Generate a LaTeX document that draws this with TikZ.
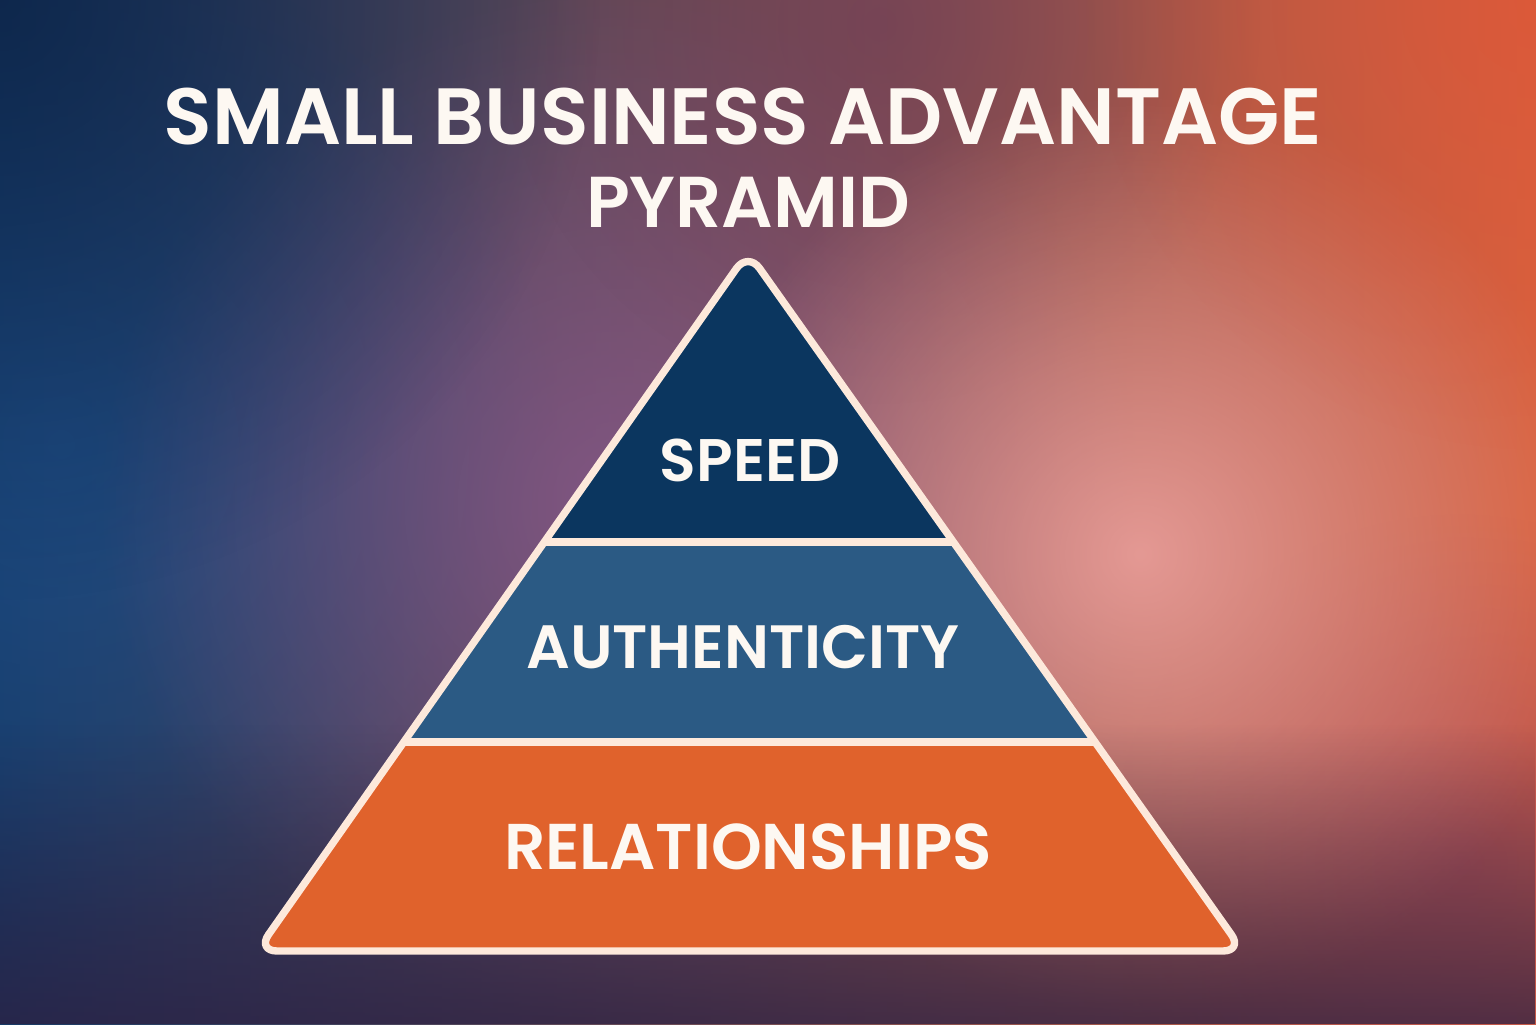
\documentclass[tikz,border=0pt]{standalone}
\usepackage{fontspec}
\setmainfont{Poppins}[BoldFont={Poppins SemiBold}]
\usetikzlibrary{calc,fadings}

\definecolor{bgnavy}{HTML}{173A66}
\definecolor{bgorange}{HTML}{D8623F}
\definecolor{glowpurple}{HTML}{86588A}
\definecolor{glowpink}{HTML}{EBA09C}
\definecolor{glowblue}{HTML}{1D4C84}
\definecolor{glowplum}{HTML}{A04860}
\definecolor{topplum}{HTML}{6A3A5A}
\definecolor{darknavy}{HTML}{0C2346}
\definecolor{darkplum}{HTML}{2C2042}
\definecolor{topband}{HTML}{0B365F}
\definecolor{midband}{HTML}{2B5A84}
\definecolor{lowband}{HTML}{E0622C}
\definecolor{rim}{HTML}{FDE9DB}
\definecolor{label}{HTML}{FDF8F2}

\tikzfading[name=softglow, inner color=transparent!0, outer color=transparent!100]
\tikzfading[name=risefade, bottom color=transparent!0, top color=transparent!100]

\begin{document}
\begin{tikzpicture}[
  rimline/.style={draw=rim, line width=2.1pt, line join=round, rounded corners=0.2cm},
  bandtext/.style={text=label, font=\bfseries\fontsize{18}{18}\selectfont},
  titletext/.style={text=label, font=\bfseries\fontsize{22.7}{22.7}\selectfont}
]
\useasboundingbox (0,0) rectangle (15.36,10.24);
% background
\shade [left color=bgnavy, right color=bgorange] (0,0) rectangle (15.36,10.24);
\fill [glowblue, path fading=softglow, opacity=0.9] (0.6,5.8) circle (5);
\fill [glowpurple, path fading=softglow, opacity=0.85] (6.2,5.2) circle (5.2);
\fill [topplum, path fading=softglow, opacity=0.55] (8.8,10.0) circle (3.8);
\fill [glowplum, path fading=softglow, opacity=0.6] (14.6,1.6) circle (3.5);
\fill [glowpink, path fading=softglow, opacity=0.9] (11.4,4.7) circle (4.6);
\fill [darknavy, path fading=softglow, opacity=0.8] (0,10.24) circle (6);
\fill [darkplum, path fading=risefade, opacity=0.75] (0,0) rectangle (15.36,3.0);
\fill [bgorange!85!red, path fading=softglow, opacity=0.6] (15.36,10.24) circle (4.5);

% pyramid
\coordinate (apex) at (7.48,7.72);
\coordinate (bl) at (2.57,0.73);
\coordinate (br) at (12.43,0.73);
\coordinate (l1) at ($(bl)!0.5851!(apex)$);
\coordinate (r1) at ($(br)!0.5851!(apex)$);
\coordinate (l2) at ($(bl)!0.2990!(apex)$);
\coordinate (r2) at ($(br)!0.2990!(apex)$);
\begin{scope}
  \clip [rounded corners=0.2cm] (bl) -- (apex) -- (br) -- cycle;
  \fill [lowband] (bl) -- (l2) -- (r2) -- (br) -- cycle;
  \fill [midband] (l2) -- (l1) -- (r1) -- (r2) -- cycle;
  \fill [topband] (l1) -- (apex) -- (r1) -- cycle;
\end{scope}
\draw [draw=rim, line width=2.1pt] (l1) -- (r1);
\draw [draw=rim, line width=2.1pt] (l2) -- (r2);
\draw [rimline] (bl) -- (apex) -- (br) -- cycle;

% labels
\node [titletext] (title) at (7.43,9.07) {SMALL BUSINESS ADVANTAGE};
\node [text=label, font=\bfseries\fontsize{20.5}{20.5}\selectfont] (subtitle) at (7.48,8.22) {PYRAMID};
\node [bandtext, font=\bfseries\fontsize{17.1}{17.1}\selectfont] (speed) at (7.50,5.64) {SPEED};
\node [bandtext, font=\bfseries\fontsize{17.4}{17.4}\selectfont] (auth) at (7.43,3.77) {AUTHENTICITY};
\node [bandtext, font=\bfseries\fontsize{18.4}{18.4}\selectfont] (rel) at (7.48,1.77) {RELATIONSHIPS};
\end{tikzpicture}
\end{document}
